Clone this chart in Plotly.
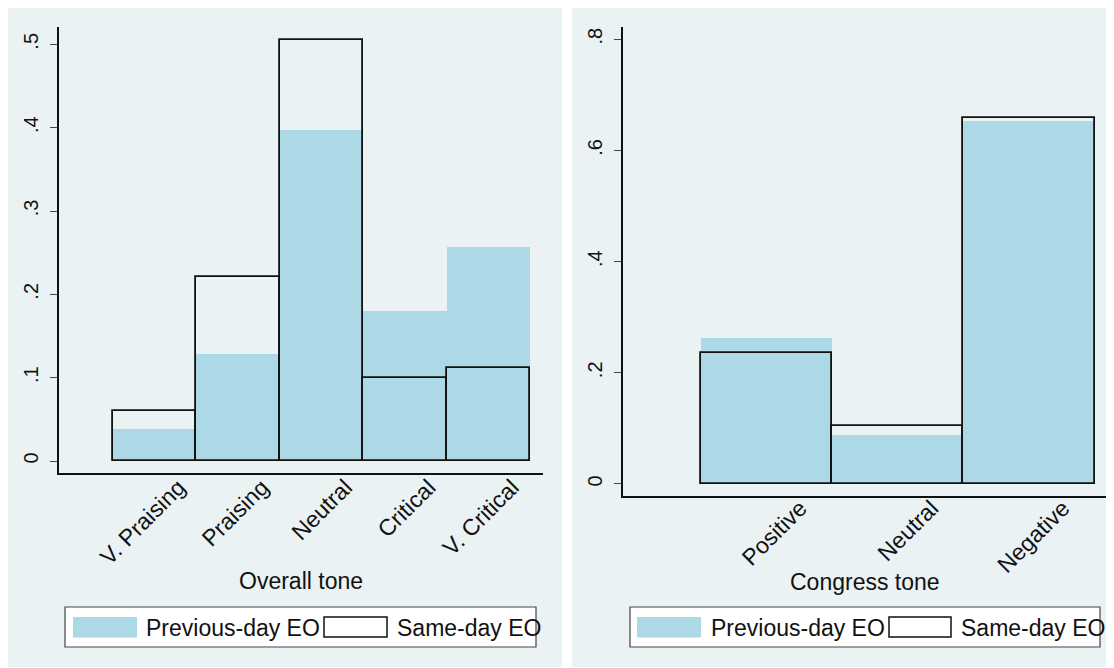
import plotly.graph_objects as go

# ---------------- data ----------------
overall_cats = ["V. Praising", "Praising", "Neutral", "Critical", "V. Critical"]
overall_prev = [0.039, 0.128, 0.397, 0.180, 0.257]
overall_same = [0.060, 0.221, 0.505, 0.100, 0.112]

congress_cats = ["Positive", "Neutral", "Negative"]
congress_prev = [0.262, 0.088, 0.653]
congress_same = [0.236, 0.105, 0.658]

left_yticks = [0, 0.1, 0.2, 0.3, 0.4, 0.5]
left_yticktext = ["0", ".1", ".2", ".3", ".4", ".5"]
right_yticks = [0, 0.2, 0.4, 0.6, 0.8]
right_yticktext = ["0", ".2", ".4", ".6", ".8"]

series_names = ["Previous-day EO", "Same-day EO"]
x_titles = ["Overall tone", "Congress tone"]

# ---------------- layout helpers ----------------
# page body has an 8px default margin, so the figure starts at (8, 8)
OFF = 8
W, H = 1114 - OFF, 668 - OFF
FONT = "Liberation Sans, Arial, Helvetica, sans-serif"
BG = "#EAF2F3"
BLUE = "#ADD8E6"


def px(x):
    return (x - OFF) / W


def py(y):
    return 1 - (y - OFF) / H


fig = go.Figure()

left_x = list(range(1, len(overall_cats) + 1))
right_x = list(range(1, len(congress_cats) + 1))

fig.add_trace(go.Bar(x=left_x, y=overall_prev, width=1, name=series_names[0],
                     marker=dict(color=BLUE, line=dict(width=0)),
                     xaxis="x", yaxis="y", showlegend=False))
fig.add_trace(go.Bar(x=left_x, y=overall_same, width=1, name=series_names[1],
                     marker=dict(color="rgba(0,0,0,0)", line=dict(color="#111111", width=1.8)),
                     xaxis="x", yaxis="y", showlegend=False))
fig.add_trace(go.Bar(x=right_x, y=congress_prev, width=1, name=series_names[0],
                     marker=dict(color=BLUE, line=dict(width=0)),
                     xaxis="x2", yaxis="y2", showlegend=False))
fig.add_trace(go.Bar(x=right_x, y=congress_same, width=1, name=series_names[1],
                     marker=dict(color="rgba(0,0,0,0)", line=dict(color="#111111", width=1.8)),
                     xaxis="x2", yaxis="y2", showlegend=False))

common_x = dict(showgrid=False, zeroline=False, showline=True, linecolor="#111111",
                linewidth=1.5, ticks="", tickangle=-45,
                tickfont=dict(family=FONT, size=23, color="#111111"))
common_y = dict(zeroline=False, showline=True, linecolor="#111111", linewidth=1.5,
                ticks="outside", ticklen=7, tickwidth=1.2, tickcolor="#444444",
                tickangle=-90, showgrid=True, gridcolor=BG, gridwidth=1.2,
                tickfont=dict(family=FONT, size=20, color="#111111"),
                ticklabelstandoff=4)

fig.update_layout(
    width=W, height=H,
    margin=dict(l=0, r=0, t=0, b=0),
    paper_bgcolor="white", plot_bgcolor="white",
    barmode="overlay", bargap=0,
    xaxis=dict(domain=[px(59), px(543)], range=[-0.147, 5.656],
               tickvals=left_x, ticktext=overall_cats, anchor="y",
               ticklabelshift=24, ticklabelstandoff=-10, **common_x),
    yaxis=dict(domain=[py(473), py(27)], range=[-0.0144, 0.5208],
               tickvals=left_yticks, ticktext=left_yticktext, anchor="x", **common_y),
    xaxis2=dict(domain=[px(623), px(1107)], range=[-0.091, 3.594],
                tickvals=right_x, ticktext=congress_cats, anchor="y2",
                ticklabelshift=34, ticklabelstandoff=-12, **common_x),
    yaxis2=dict(domain=[py(496), py(27)], range=[-0.0216, 0.822],
                tickvals=right_yticks, ticktext=right_yticktext, anchor="x2", **common_y),
)

shapes = []
annotations = []

# panel backgrounds
for x0, x1 in [(OFF, 562), (572, 1114)]:
    shapes.append(dict(type="rect", xref="paper", yref="paper", layer="below",
                       x0=px(x0), x1=px(x1), y0=py(667), y1=py(OFF),
                       fillcolor=BG, line=dict(width=0)))

# axis titles
for cx, cy, t in [(301, 581, x_titles[0]), (865, 582, x_titles[1])]:
    annotations.append(dict(xref="paper", yref="paper", x=px(cx), y=py(cy), text=t,
                            showarrow=False, xanchor="center", yanchor="middle",
                            font=dict(family=FONT, size=23, color="#111111")))

# legends
legend_specs = [
    dict(box=(65, 536), sw1=(73, 137), t1=145, sw2=(324, 387), t2=396),
    dict(box=(630, 1100), sw1=(637, 701), t1=710, sw2=(889, 951), t2=960),
]
for L in legend_specs:
    shapes.append(dict(type="rect", xref="paper", yref="paper", layer="above",
                       x0=px(L["box"][0]), x1=px(L["box"][1]), y0=py(647), y1=py(607),
                       fillcolor="white", line=dict(color="#444444", width=1.2)))
    shapes.append(dict(type="rect", xref="paper", yref="paper", layer="above",
                       x0=px(L["sw1"][0]), x1=px(L["sw1"][1]), y0=py(637.5), y1=py(617),
                       fillcolor=BLUE, line=dict(width=0)))
    shapes.append(dict(type="rect", xref="paper", yref="paper", layer="above",
                       x0=px(L["sw2"][0]), x1=px(L["sw2"][1]), y0=py(637), y1=py(617),
                       fillcolor="white", line=dict(color="#111111", width=1.5)))
    for tx, txt in [(L["t1"], series_names[0]), (L["t2"], series_names[1])]:
        annotations.append(dict(xref="paper", yref="paper", x=px(tx), y=py(628), text=txt,
                                showarrow=False, xanchor="left", yanchor="middle",
                                borderpad=0,
                                font=dict(family=FONT, size=23, color="#111111")))

fig.update_layout(shapes=shapes, annotations=annotations)

fig.write_html("out.html")
